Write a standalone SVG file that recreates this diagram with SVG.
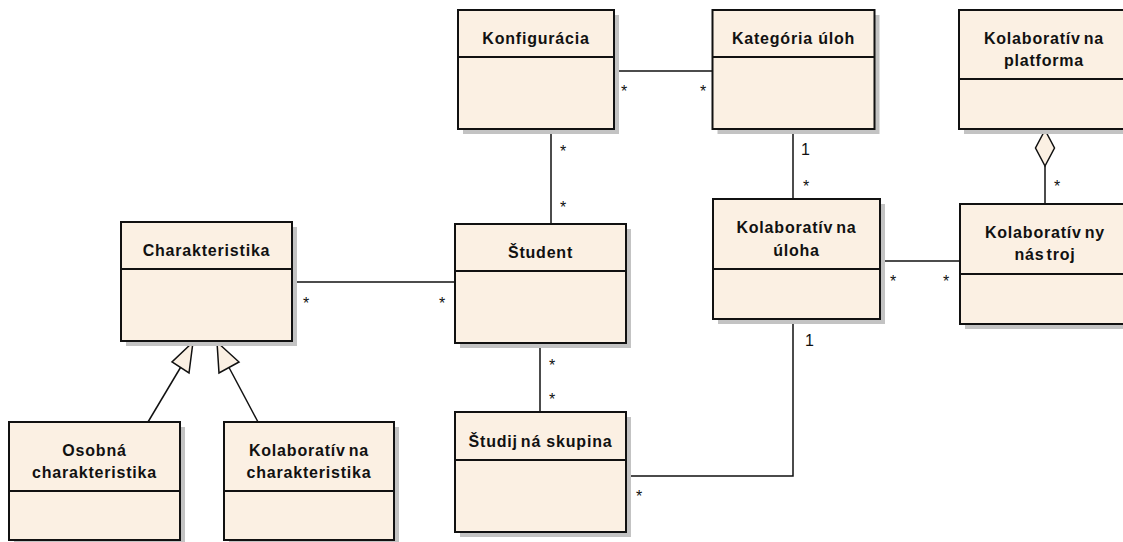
<svg xmlns="http://www.w3.org/2000/svg" width="1123" height="542" viewBox="0 0 1123 542">
  <style>
    .shadow { fill: #C3C3C3; }
    .box { fill: #FBF0E3; stroke: #111; stroke-width: 2; }
    .sep { stroke: #111; stroke-width: 2; }
    .name { font-family: "Liberation Sans", Arial, sans-serif; font-weight: bold; font-size: 16px; letter-spacing: 0.8px; text-anchor: middle; fill: #111; }
    .mult { font-family: "Liberation Sans", Arial, sans-serif; font-size: 16px; text-anchor: middle; fill: #111; }
    .conn { stroke: #111; stroke-width: 1.5; fill: none; }
    .head { fill: #FBF0E3; stroke: #111; stroke-width: 1.5; stroke-linejoin: miter; }
  </style>
  <rect width="1123" height="542" fill="#FFFFFF"/>

  <!-- associations, aggregation and generalizations -->
  <g id="connectors">
    <line class="conn" x1="614" y1="71" x2="712.5" y2="71"/>
    <line class="conn" x1="551" y1="129" x2="551" y2="224"/>
    <line class="conn" x1="793" y1="129" x2="793" y2="199"/>
    <line class="conn" x1="1045" y1="166" x2="1045" y2="204"/>
    <polygon class="head" points="1045,130 1054.5,148 1045,166 1035.5,148"/>
    <line class="conn" x1="292" y1="282" x2="455" y2="282"/>
    <line class="conn" x1="880" y1="261" x2="960" y2="261"/>
    <line class="conn" x1="540" y1="343" x2="540" y2="412"/>
    <polyline class="conn" points="626,476 793,476 793,319"/>
    <line class="conn" x1="180.5" y1="367.5" x2="148" y2="422"/>
    <polygon class="head" points="193,342 172,362 189,373"/>
    <line class="conn" x1="229" y1="367.5" x2="258" y2="422"/>
    <polygon class="head" points="217,342 219,373 239,362"/>

    <!-- multiplicities -->
    <text class="mult" x="624" y="97">*</text>
    <text class="mult" x="703" y="97">*</text>
    <text class="mult" x="563" y="157">*</text>
    <text class="mult" x="563" y="213">*</text>
    <text class="mult" x="306" y="309">*</text>
    <text class="mult" x="442" y="309">*</text>
    <text class="mult" x="805.5" y="155">1</text>
    <text class="mult" x="806" y="192">*</text>
    <text class="mult" x="1057" y="192">*</text>
    <text class="mult" x="893" y="287">*</text>
    <text class="mult" x="946" y="287">*</text>
    <text class="mult" x="552" y="371">*</text>
    <text class="mult" x="552" y="405">*</text>
    <text class="mult" x="809.5" y="346">1</text>
    <text class="mult" x="639" y="502">*</text>
  </g>

  <g id="konfiguracia">
    <rect class="shadow" x="463" y="15" width="156" height="119"/>
    <rect class="box" x="458" y="10" width="156" height="119"/>
    <line class="sep" x1="458" y1="57" x2="614" y2="57"/>
    <text class="name" x="536" y="44">Konfigurácia</text>
  </g>

  <g id="kategoria-uloh">
    <rect class="shadow" x="717.5" y="15" width="162" height="119"/>
    <rect class="box" x="712.5" y="10" width="162" height="119"/>
    <line class="sep" x1="712.5" y1="57" x2="874.5" y2="57"/>
    <text class="name" x="793.5" y="44">Kategória  úloh</text>
  </g>

  <g id="kolaborativna-platforma">
    <rect class="shadow" x="964" y="15" width="172" height="119"/>
    <rect class="box" x="959" y="10" width="172" height="119"/>
    <line class="sep" x1="959" y1="79" x2="1131" y2="79"/>
    <text class="name" x="1044" y="44">Kolaboratív<tspan dx="3">na</tspan></text>
    <text class="name" x="1044" y="66">platforma</text>
  </g>

  <g id="charakteristika">
    <rect class="shadow" x="126" y="227" width="171" height="119"/>
    <rect class="box" x="121" y="222" width="171" height="119"/>
    <line class="sep" x1="121" y1="269" x2="292" y2="269"/>
    <text class="name" x="206.5" y="256">Charakteristika</text>
  </g>

  <g id="student">
    <rect class="shadow" x="460" y="229" width="171" height="119"/>
    <rect class="box" x="455" y="224" width="171" height="119"/>
    <line class="sep" x1="455" y1="271" x2="626" y2="271"/>
    <text class="name" x="540.5" y="258">Študent</text>
  </g>

  <g id="kolaborativna-uloha">
    <rect class="shadow" x="718" y="204" width="167" height="120"/>
    <rect class="box" x="713" y="199" width="167" height="120"/>
    <line class="sep" x1="713" y1="269" x2="880" y2="269"/>
    <text class="name" x="796.5" y="233">Kolaboratív<tspan dx="3">na</tspan></text>
    <text class="name" x="796.5" y="256">úloha</text>
  </g>

  <g id="kolaborativny-nastroj">
    <rect class="shadow" x="965" y="209" width="170" height="120"/>
    <rect class="box" x="960" y="204" width="170" height="120"/>
    <line class="sep" x1="960" y1="274" x2="1130" y2="274"/>
    <text class="name" x="1045" y="238">Kolaboratív<tspan dx="3">ny</tspan></text>
    <text class="name" x="1045" y="260">nás<tspan dx="2">troj</tspan></text>
  </g>

  <g id="studijna-skupina">
    <rect class="shadow" x="460" y="417" width="171" height="120"/>
    <rect class="box" x="455" y="412" width="171" height="120"/>
    <line class="sep" x1="455" y1="460" x2="626" y2="460"/>
    <text class="name" x="540.5" y="447">Študij<tspan dx="3">ná</tspan> skupina</text>
  </g>

  <g id="osobna-charakteristika">
    <rect class="shadow" x="14" y="427" width="171" height="118"/>
    <rect class="box" x="9" y="422" width="171" height="118"/>
    <line class="sep" x1="9" y1="491" x2="180" y2="491"/>
    <text class="name" x="94.5" y="456">Osobná</text>
    <text class="name" x="94.5" y="478">charakteristika</text>
  </g>

  <g id="kolaborativna-charakteristika">
    <rect class="shadow" x="229" y="427" width="170" height="118"/>
    <rect class="box" x="224" y="422" width="170" height="118"/>
    <line class="sep" x1="224" y1="491" x2="394" y2="491"/>
    <text class="name" x="309" y="456">Kolaboratív<tspan dx="3">na</tspan></text>
    <text class="name" x="309" y="478">charakteristika</text>
  </g>
</svg>
